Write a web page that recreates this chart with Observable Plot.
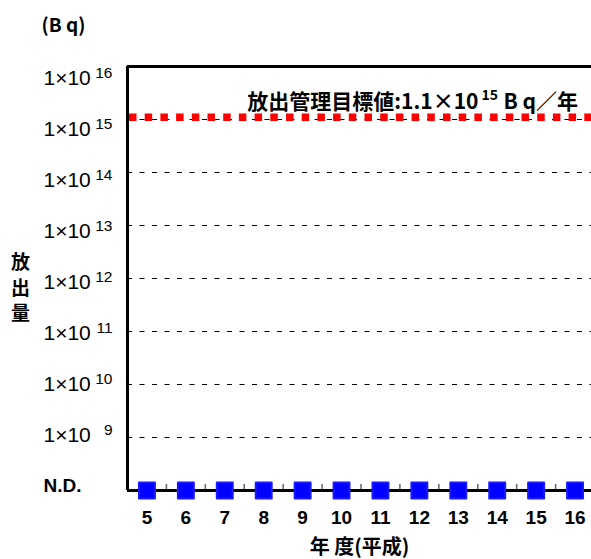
<!DOCTYPE html>
<html><head><meta charset="utf-8">
<script src="https://cdn.jsdelivr.net/npm/d3@7"></script>
<script src="https://cdn.jsdelivr.net/npm/@observablehq/plot@0.6"></script>
<style>body{margin:0;background:#fff}</style>
</head><body><div id="chart"></div>
<script>
// Data
const years = [5, 6, 7, 8, 9, 10, 11, 12, 13, 14, 15, 16];
const releases = ["N.D.", "N.D.", "N.D.", "N.D.", "N.D.", "N.D.", "N.D.", "N.D.", "N.D.", "N.D.", "N.D.", "N.D."];
const ndLevel = 1e8;
const target = 1.1e15;
const decades = [1e9, 1e10, 1e11, 1e12, 1e13, 1e14, 1e15, 1e16];
const gridDecades = [1e9, 1e10, 1e11, 1e12, 1e13, 1e14, 1e15];
const yLabel = "放\n出\n量";
const xLabel = "年 度(平成)";
const unitLabel = "(B q)";
const targetText = "放出管理目標値:1.1×10";
const targetExp = "15";
const targetUnit = "B q／年";

const rows = years.map((y, i) => ({year: y, value: releases[i] === "N.D." ? ndLevel : releases[i]}));
const halfs = years.slice(0, -1).map(y => y + 0.5);
const sans = "'Liberation Sans', Arial, sans-serif";
const cjk = "'Noto Sans CJK JP', sans-serif";

// tick labels drift slightly from the gridlines in the original (Excel layout)
const drift = d => -2 * (16 - Math.round(Math.log10(d)));
const tickLabelMarks = decades.flatMap(d => [
  Plot.text([d], {y: v => v, text: () => "1×10", frameAnchor: "left", textAnchor: "start", lineAnchor: "bottom", dx: -84, dy: 18 + drift(d), fontSize: 21, fill: "#000"}),
  Plot.text([d], {y: v => v, text: v => String(Math.round(Math.log10(v))), frameAnchor: "left", textAnchor: "end", lineAnchor: "bottom", dx: -15, dy: 11 + drift(d), fontSize: 15.5, fill: "#000"})
]);

const chart = Plot.plot({
  width: 591,
  height: 559,
  marginTop: 66,
  marginBottom: 69,
  marginLeft: 127,
  marginRight: 0,
  style: {fontFamily: sans, background: "#fff", color: "#000"},
  x: {type: "linear", domain: [4.5, 16.5], range: [127, 594], label: null, axis: null},
  y: {type: "log", domain: [1e8, 1e16], label: null, axis: null},
  marks: [
    Plot.ruleY(gridDecades, {stroke: "#000", strokeWidth: 1, strokeDasharray: "5,7.5"}),
    Plot.ruleY([target], {stroke: "#ff0000", strokeWidth: 7.5, strokeDasharray: "7.5,8.2", strokeDashoffset: -2}),
    Plot.ruleX(halfs, {x: d => d, insetTop: 418, stroke: "#666", strokeWidth: 1.5}),
    Plot.ruleY([1e16], {stroke: "#000", strokeWidth: 3}),
    Plot.ruleY([ndLevel], {stroke: "#000", strokeWidth: 3}),
    Plot.ruleX([4.5], {stroke: "#000", strokeWidth: 3}),
    Plot.dot(rows, {x: "year", y: "value", symbol: "square", r: 9, fill: "#0000ff", stroke: "#1a1aff", strokeWidth: 2, strokeLinejoin: "round"}),
    Plot.axisX(years, {tickSize: 0, tickPadding: 20, label: null, fontSize: 19, fontWeight: "bold", fill: "#000"}),
    ...tickLabelMarks,
    Plot.text(["N.D."], {text: d => d, frameAnchor: "bottom-left", textAnchor: "start", lineAnchor: "bottom", dx: -84, dy: 1, fontSize: 19, fontWeight: "bold", fill: "#000"}),
    Plot.text([unitLabel], {text: d => d, frameAnchor: "top-left", textAnchor: "start", lineAnchor: "top", dx: -86, dy: -48, fontSize: 19, fontWeight: "bold", fontFamily: cjk, fill: "#000"}),
    Plot.text([yLabel], {text: d => d, frameAnchor: "left", textAnchor: "middle", lineAnchor: "middle", lineHeight: 1.35, dx: -107, dy: 8, fontSize: 19, fontWeight: "bold", fontFamily: cjk, fill: "#000"}),
    Plot.text([xLabel], {text: d => d, frameAnchor: "bottom", textAnchor: "middle", lineAnchor: "middle", dy: 57, fontSize: 20, fontWeight: "bold", fontFamily: cjk, fill: "#000"}),
    // target annotation
    Plot.text([targetText], {y: () => target, text: d => d, frameAnchor: "left", textAnchor: "end", lineAnchor: "middle", dx: 351, dy: -15, fontSize: 21, fontWeight: "bold", fontFamily: cjk, fill: "#000"}),
    Plot.text([targetExp], {y: () => target, text: d => d, frameAnchor: "left", textAnchor: "start", lineAnchor: "middle", dx: 354, dy: -22, fontSize: 14, fontWeight: "bold", fontFamily: cjk, fill: "#000"}),
    Plot.text([targetUnit], {y: () => target, text: d => d, frameAnchor: "left", textAnchor: "start", lineAnchor: "middle", dx: 376, dy: -15, fontSize: 21, fontWeight: "bold", fontFamily: cjk, fill: "#000"})
  ]
});
document.getElementById("chart").appendChild(chart);
</script>
</body></html>
